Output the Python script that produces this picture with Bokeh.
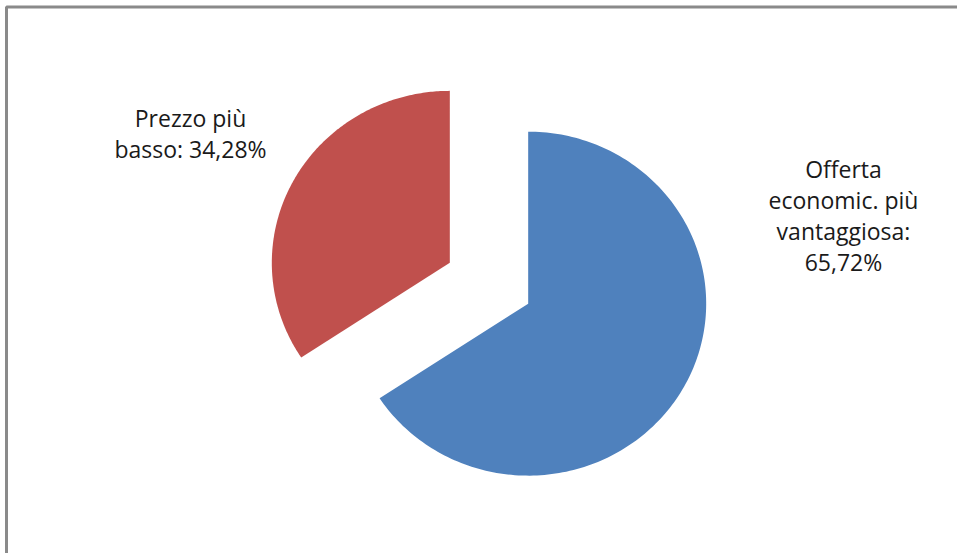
from bokeh.plotting import figure
from bokeh.models import Range1d, ColumnDataSource
from bokeh.core.properties import value
from bokeh.embed import file_html
from bokeh.resources import INLINE
import numpy as np

# ---- data ----
categories = ["Offerta economic. più vantaggiosa", "Prezzo più basso"]
shares = [65.72, 34.28]  # percent
colors = ["#4F81BD", "#C0504D"]
label_texts = ["Offerta\neconomic. più\nvantaggiosa:\n65,72%", "Prezzo più\nbasso: 34,28%"]

# ---- layout constants (pixels, y up) ----
W, H = 957, 553
pie_cx, pie_cy = 488.5, 270.25
rx, ry = 178, 172          # slightly stretched horizontally, as in the original
explode = 0.25             # fraction of the radius

frac = np.array(shares) / sum(shares)
cum = np.concatenate([[0], np.cumsum(frac)])
# clockwise from 12 o'clock
ang_start = np.pi / 2 - cum[1:] * 2 * np.pi
ang_end = np.pi / 2 - cum[:-1] * 2 * np.pi
mid = (ang_start + ang_end) / 2
cx = pie_cx + explode * rx * np.cos(mid)
cy = pie_cy + explode * ry * np.sin(mid)

xs, ys = [], []
for i in range(len(shares)):
    t = np.linspace(ang_start[i], ang_end[i], 200)
    xs.append(np.concatenate([[cx[i]], cx[i] + rx * np.cos(t)]))
    ys.append(np.concatenate([[cy[i]], cy[i] + ry * np.sin(t)]))

src = ColumnDataSource(dict(xs=xs, ys=ys, c=colors, cat=categories))

p = figure(width=W, height=H, x_range=Range1d(0, W), y_range=Range1d(0, H),
           output_backend="svg", toolbar_location=None, min_border=0)
p.axis.visible = False
p.grid.visible = False
p.outline_line_color = None
p.background_fill_color = "white"
p.border_fill_color = "white"

# chart area border (extends beyond the visible window on right/bottom)
p.quad(left=[6], right=[W + 50], top=[H - 6.5], bottom=[-50],
       fill_color=None, line_color="#8a8a8a", line_width=3)

p.patches(xs="xs", ys="ys", fill_color="c", line_color=None, source=src)

# data labels
lab_x = [843, 190]
lab_y = [H - 215, H - 133]
p.text(x=lab_x, y=lab_y, text=label_texts, text_align="center", text_baseline="middle",
       text_font=value("Open Sans"), text_font_size="23px", text_color="#1a1a1a",
       text_line_height=0.96)

open("out.html", "w").write(file_html(p, INLINE))
